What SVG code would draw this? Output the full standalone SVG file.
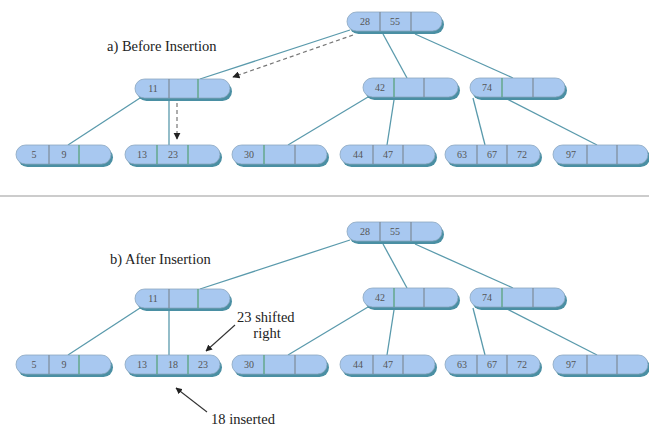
<svg xmlns="http://www.w3.org/2000/svg" width="649" height="428" viewBox="0 0 649 428" font-family="Liberation Serif, Times New Roman, serif">
<defs>
<style>
.sh{fill:#4a8fa3}
.bd{fill:#a8c8f0;stroke:#8aa6bf;stroke-width:0.8}
.dg{stroke:#7d8a98;stroke-width:1.2}
.dv{stroke:#5fa585;stroke-width:1.4}
.nt{font-size:10px;fill:#555;text-anchor:middle}
.lb{font-size:14.5px;fill:#222}
.cn{stroke:#5a9aac;stroke-width:1.3;fill:none}
.ds{stroke:#777;stroke-width:1.2;stroke-dasharray:4 3;fill:none}
.an{stroke:#333;stroke-width:1.1;fill:none}
</style>
<marker id="ah" viewBox="0 0 10 10" refX="9" refY="5" markerWidth="6" markerHeight="6" orient="auto">
<path d="M0,0 L10,5 L0,10 z" fill="#222"/>
</marker>
<g id="pill">
<rect class="sh" x="2" y="3" width="95" height="19" rx="9.5"/>
<rect class="bd" x="0" y="0" width="95" height="19" rx="9.5"/>
</g>
</defs>
<rect width="649" height="428" fill="#fff"/>

<g id="connectors">
<line class="cn" x1="350" y1="30" x2="200" y2="79"/>
<line class="cn" x1="383" y1="34" x2="407" y2="78"/>
<line class="cn" x1="415" y1="34" x2="513" y2="78"/>
<line class="cn" x1="140" y1="98" x2="68" y2="145"/>
<line class="cn" x1="169" y1="100" x2="169" y2="145"/>
<line class="cn" x1="368" y1="97" x2="288" y2="145"/>
<line class="cn" x1="394" y1="100" x2="387" y2="145"/>
<line class="cn" x1="473" y1="98" x2="485" y2="145"/>
<line class="cn" x1="507" y1="99" x2="597" y2="145"/>
<path class="ds" d="M353,35 L233,77" marker-end="url(#ah)"/>
<path class="ds" d="M177,103 L177,139" marker-end="url(#ah)"/>

<line class="cn" x1="350" y1="240" x2="200" y2="289"/>
<line class="cn" x1="383" y1="244" x2="407" y2="288"/>
<line class="cn" x1="415" y1="244" x2="513" y2="288"/>
<line class="cn" x1="140" y1="308" x2="68" y2="355"/>
<line class="cn" x1="169" y1="310" x2="169" y2="355"/>
<line class="cn" x1="368" y1="307" x2="288" y2="355"/>
<line class="cn" x1="394" y1="310" x2="387" y2="355"/>
<line class="cn" x1="473" y1="308" x2="485" y2="355"/>
<line class="cn" x1="507" y1="309" x2="597" y2="355"/>

<path class="an" d="M235,325 L206,351" marker-end="url(#ah)"/>
<path class="an" d="M207,412 L176,388" marker-end="url(#ah)"/>
</g>

<line x1="0" y1="196" x2="649" y2="196" stroke="#999" stroke-width="1"/>

<text class="lb" x="107" y="51">a) Before Insertion</text>
<text class="lb" x="110" y="264">b) After Insertion</text>
<text class="lb" x="237" y="322">23 shifted</text>
<text class="lb" x="267" y="338" text-anchor="middle">right</text>
<text class="lb" x="211" y="424">18 inserted</text>

<!-- top half -->
<g id="a_root" transform="translate(347,12)">
<use href="#pill"/><line class="dg" x1="33" y1="0" x2="33" y2="19"/><line class="dg" x1="64" y1="0" x2="64" y2="19"/>
<text class="nt" x="18" y="13">28</text><text class="nt" x="48" y="13">55</text>
</g>
<g id="a_n11" transform="translate(135,79)">
<use href="#pill"/><line class="dg" x1="34" y1="0" x2="34" y2="19"/><line class="dv" x1="63" y1="0" x2="63" y2="19"/>
<text class="nt" x="18" y="13">11</text>
</g>
<g id="a_n42" transform="translate(363,78)">
<use href="#pill"/><line class="dv" x1="31" y1="0" x2="31" y2="19"/><line class="dg" x1="61" y1="0" x2="61" y2="19"/>
<text class="nt" x="17" y="13">42</text>
</g>
<g id="a_n74" transform="translate(470,78)">
<use href="#pill"/><line class="dv" x1="32" y1="0" x2="32" y2="19"/><line class="dg" x1="63" y1="0" x2="63" y2="19"/>
<text class="nt" x="17" y="13">74</text>
</g>
<g id="a_l59" transform="translate(16,145)">
<use href="#pill"/><line class="dg" x1="33" y1="0" x2="33" y2="19"/><line class="dv" x1="63" y1="0" x2="63" y2="19"/>
<text class="nt" x="18" y="13">5</text><text class="nt" x="48" y="13">9</text>
</g>
<g id="a_l1323" transform="translate(125,145)">
<use href="#pill"/><line class="dv" x1="32" y1="0" x2="32" y2="19"/><line class="dv" x1="63" y1="0" x2="63" y2="19"/>
<text class="nt" x="17" y="13">13</text><text class="nt" x="48" y="13">23</text>
</g>
<g id="a_l30" transform="translate(232,145)">
<use href="#pill"/><line class="dv" x1="32" y1="0" x2="32" y2="19"/><line class="dg" x1="63" y1="0" x2="63" y2="19"/>
<text class="nt" x="17" y="13">30</text>
</g>
<g id="a_l4447" transform="translate(340,145)">
<use href="#pill"/><line class="dg" x1="33" y1="0" x2="33" y2="19"/><line class="dg" x1="63" y1="0" x2="63" y2="19"/>
<text class="nt" x="18" y="13">44</text><text class="nt" x="48" y="13">47</text>
</g>
<g id="a_l636772" transform="translate(445,145)">
<use href="#pill"/><line class="dg" x1="32" y1="0" x2="32" y2="19"/><line class="dg" x1="62" y1="0" x2="62" y2="19"/>
<text class="nt" x="17" y="13">63</text><text class="nt" x="47" y="13">67</text><text class="nt" x="77" y="13">72</text>
</g>
<g id="a_l97" transform="translate(553,145)">
<use href="#pill"/><line class="dg" x1="34" y1="0" x2="34" y2="19"/><line class="dg" x1="64" y1="0" x2="64" y2="19"/>
<text class="nt" x="18" y="13">97</text>
</g>

<!-- bottom half -->
<g id="b_root" transform="translate(347,222)">
<use href="#pill"/><line class="dg" x1="33" y1="0" x2="33" y2="19"/><line class="dg" x1="64" y1="0" x2="64" y2="19"/>
<text class="nt" x="18" y="13">28</text><text class="nt" x="48" y="13">55</text>
</g>
<g id="b_n11" transform="translate(135,289)">
<use href="#pill"/><line class="dg" x1="34" y1="0" x2="34" y2="19"/><line class="dv" x1="63" y1="0" x2="63" y2="19"/>
<text class="nt" x="18" y="13">11</text>
</g>
<g id="b_n42" transform="translate(363,288)">
<use href="#pill"/><line class="dv" x1="31" y1="0" x2="31" y2="19"/><line class="dg" x1="61" y1="0" x2="61" y2="19"/>
<text class="nt" x="17" y="13">42</text>
</g>
<g id="b_n74" transform="translate(470,288)">
<use href="#pill"/><line class="dv" x1="32" y1="0" x2="32" y2="19"/><line class="dg" x1="63" y1="0" x2="63" y2="19"/>
<text class="nt" x="17" y="13">74</text>
</g>
<g id="b_l59" transform="translate(16,355)">
<use href="#pill"/><line class="dg" x1="33" y1="0" x2="33" y2="19"/><line class="dv" x1="63" y1="0" x2="63" y2="19"/>
<text class="nt" x="18" y="13">5</text><text class="nt" x="48" y="13">9</text>
</g>
<g id="b_l131823" transform="translate(125,355)">
<use href="#pill"/><line class="dv" x1="32" y1="0" x2="32" y2="19"/><line class="dv" x1="63" y1="0" x2="63" y2="19"/>
<text class="nt" x="17" y="13">13</text><text class="nt" x="48" y="13">18</text><text class="nt" x="78" y="13">23</text>
</g>
<g id="b_l30" transform="translate(232,355)">
<use href="#pill"/><line class="dv" x1="32" y1="0" x2="32" y2="19"/><line class="dg" x1="63" y1="0" x2="63" y2="19"/>
<text class="nt" x="17" y="13">30</text>
</g>
<g id="b_l4447" transform="translate(340,355)">
<use href="#pill"/><line class="dg" x1="33" y1="0" x2="33" y2="19"/><line class="dg" x1="63" y1="0" x2="63" y2="19"/>
<text class="nt" x="18" y="13">44</text><text class="nt" x="48" y="13">47</text>
</g>
<g id="b_l636772" transform="translate(445,355)">
<use href="#pill"/><line class="dg" x1="32" y1="0" x2="32" y2="19"/><line class="dg" x1="62" y1="0" x2="62" y2="19"/>
<text class="nt" x="17" y="13">63</text><text class="nt" x="47" y="13">67</text><text class="nt" x="77" y="13">72</text>
</g>
<g id="b_l97" transform="translate(553,355)">
<use href="#pill"/><line class="dg" x1="34" y1="0" x2="34" y2="19"/><line class="dg" x1="64" y1="0" x2="64" y2="19"/>
<text class="nt" x="18" y="13">97</text>
</g>
</svg>
